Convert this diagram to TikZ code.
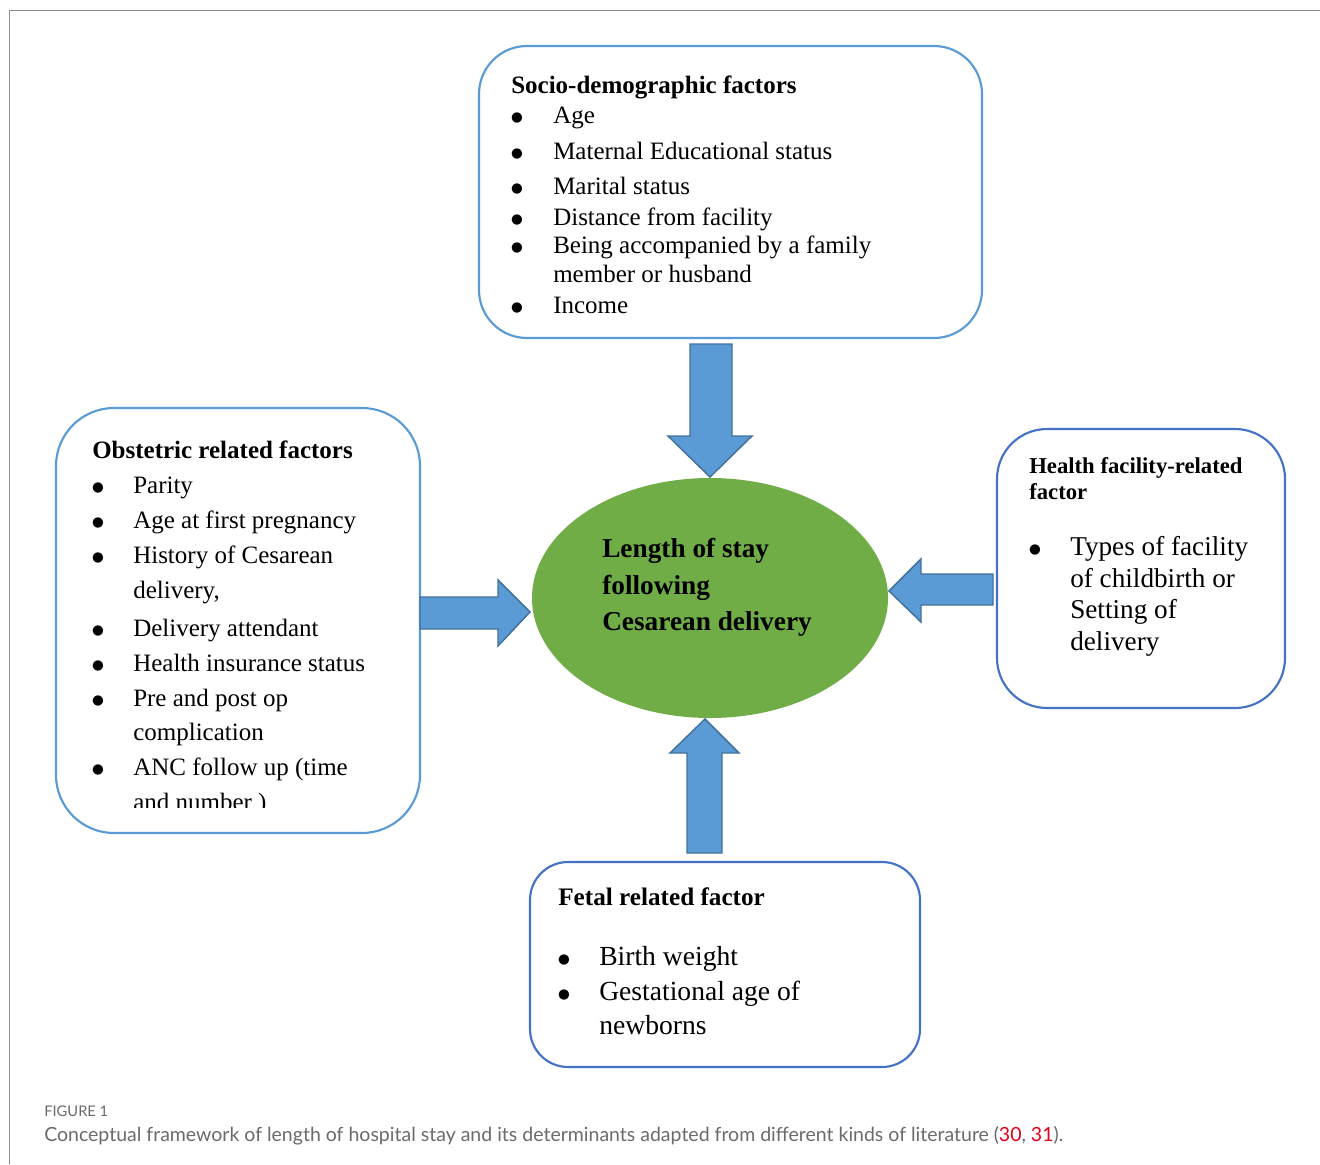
\documentclass[tikz,border=0pt]{standalone}
\usepackage{fontspec}
\usetikzlibrary{shapes.geometric}
\setmainfont{Liberation Serif}
\newfontfamily\capfont{Lato}
\newfontfamily\symfont{DejaVu Sans}
\definecolor{boxblue}{HTML}{5B9BD5}
\definecolor{boxdark}{HTML}{4472C4}
\definecolor{arrowedge}{HTML}{41719C}
\definecolor{ellgreen}{HTML}{70AD47}
\definecolor{frameGray}{HTML}{8C8C8C}
\definecolor{capGray}{HTML}{6B6B6B}
\definecolor{refRed}{HTML}{E2001A}
% font size given in pixels of the drawing grid (1 unit = 0.75pt)
\newcommand{\pxfont}[1]{\fontsize{\fpeval{#1*0.75}pt}{\fpeval{#1*0.9}pt}\selectfont}
\begin{document}
\begin{tikzpicture}[x=0.75pt,y=-0.75pt,
  factorbox/.style={draw=#1, line width=1.6pt, inner sep=0pt, fill=white},
  blockarrow/.style={fill=boxblue, draw=arrowedge, line width=1.1pt, line join=miter},
  txt/.style={anchor=base west, inner sep=0pt, text=black},
  bul/.style={anchor=base, inner sep=0pt, text=black, font=\symfont\pxfont{13.5}, yshift=1.5pt},
]
\useasboundingbox (0,0) rectangle (1320,1164);
\fill[white] (0,0) rectangle (1320,1164);

% frame
\draw[frameGray, line width=0.8pt] (9.5,1164) -- (9.5,10.5) -- (1320,10.5);

% factor boxes
\node[factorbox=boxblue, rounded corners=36pt, minimum width=377.25pt, minimum height=219pt] (socio) at (730.5,192) {};
\node[factorbox=boxblue, rounded corners=43.5pt, minimum width=273pt, minimum height=318.75pt] (obst) at (238,620.5) {};
\node[factorbox=boxdark, rounded corners=37.5pt, minimum width=216pt, minimum height=209.25pt] (facil) at (1141,568.5) {};
\node[factorbox=boxdark, rounded corners=28.5pt, minimum width=292.5pt, minimum height=153.75pt] (fetal) at (725,964.5) {};

% outcome
\node[ellipse, fill=ellgreen, inner sep=0pt, minimum width=267pt, minimum height=180pt] (los) at (710,598) {};

% block arrows into the outcome
\draw[blockarrow] (690,344) -- (732,344) -- (732,436) -- (752,436) -- (710,477)
  -- (668,436) -- (690,436) -- cycle;
\draw[blockarrow] (420,597) -- (498,597) -- (498,580) -- (530,612) -- (498,646)
  -- (498,629) -- (420,629) -- cycle;
\draw[blockarrow] (993,574) -- (921,574) -- (921,559) -- (889,591) -- (921,622)
  -- (921,605) -- (993,605) -- cycle;
\draw[blockarrow] (687,853) -- (687,753) -- (670,753) -- (705,719) -- (739,753)
  -- (722,753) -- (722,853) -- cycle;

% socio-demographic factors
\begin{scope}[every node/.append style={font=\pxfont{25}}]
\node[txt, font=\pxfont{25}\bfseries] (s0) at (511,93) {Socio-demographic factors};
\node[bul] (sb1) at (517,123) {●}; \node[txt] (s1) at (553,123) {Age};
\node[bul] (sb2) at (517,159) {●}; \node[txt] (s2) at (553,159) {Maternal Educational status};
\node[bul] (sb3) at (517,194) {●}; \node[txt] (s3) at (553,194) {Marital status};
\node[bul] (sb4) at (517,225) {●}; \node[txt] (s4) at (553,225) {Distance from facility};
\node[bul] (sb5) at (517,253) {●}; \node[txt] (s5) at (553,253) {Being accompanied by a family};
\node[txt] (s6) at (553,282) {member or husband};
\node[bul] (sb7) at (517,313) {●}; \node[txt] (s7) at (553,313) {Income};
\end{scope}

% obstetric related factors
\begin{scope}[every node/.append style={font=\pxfont{25}}]
\node[txt, font=\pxfont{25}\bfseries] (o0) at (92,458) {Obstetric related factors};
\node[bul] (ob1) at (98,493) {●}; \node[txt] (o1) at (133,493) {Parity};
\node[bul] (ob2) at (98,528) {●}; \node[txt] (o2) at (133,528) {Age at first pregnancy};
\node[bul] (ob3) at (98,563) {●}; \node[txt] (o3) at (133,563) {History of Cesarean};
\node[txt] (o4) at (133,598) {delivery,};
\node[bul] (ob5) at (98,636) {●}; \node[txt] (o5) at (133,636) {Delivery attendant};
\node[bul] (ob6) at (98,671) {●}; \node[txt] (o6) at (133,671) {Health insurance status};
\node[bul] (ob7) at (98,706) {●}; \node[txt] (o7) at (133,706) {Pre and post op};
\node[txt] (o8) at (133,740) {complication};
\node[bul] (ob9) at (98,775) {●}; \node[txt] (o9) at (133,775) {ANC follow up (time};
\begin{scope}
\clip (56,780) rectangle (420,807);
\node[txt] (o10) at (133,810) {and number )};
\end{scope}
\end{scope}

% health facility related factor
\node[txt, font=\pxfont{22.7}\bfseries] (h0) at (1029,473) {Health facility-related};
\node[txt, font=\pxfont{22.7}\bfseries] (h1) at (1029,499) {factor};
\begin{scope}[every node/.append style={font=\pxfont{27.2}}]
\node[bul] (hb2) at (1035,555) {●}; \node[txt] (h2) at (1070,555) {Types of facility};
\node[txt] (h3) at (1070,587) {of childbirth or};
\node[txt] (h4) at (1070,618) {Setting of};
\node[txt] (h5) at (1070,650) {delivery};
\end{scope}

% fetal related factor
\node[txt, font=\pxfont{25.2}\bfseries] (f0) at (558,905) {Fetal related factor};
\begin{scope}[every node/.append style={font=\pxfont{27.6}}]
\node[bul] (fb1) at (564,965) {●}; \node[txt] (f1) at (599,965) {Birth weight};
\node[bul] (fb2) at (564,1000) {●}; \node[txt] (f2) at (599,1000) {Gestational age of};
\node[txt] (f3) at (599,1034) {newborns};
\end{scope}

% outcome label
\begin{scope}[every node/.append style={font=\pxfont{27.3}\bfseries}]
\node[txt] (l1) at (602,557) {Length of stay};
\node[txt] (l2) at (602,594) {following};
\node[txt] (l3) at (602,630) {Cesarean delivery};
\end{scope}

% caption
\node[txt, text=capGray, font=\capfont\pxfont{14.7}] (figno) at (44,1116) {FIGURE 1};
\node[txt, text=capGray, font=\capfont\pxfont{19.5}] (cap) at (44,1141)
  {Conceptual framework of length of hospital stay and its determinants adapted from different kinds of literature (\textcolor{refRed}{30}, \textcolor{refRed}{31}).};
\end{tikzpicture}
\end{document}
